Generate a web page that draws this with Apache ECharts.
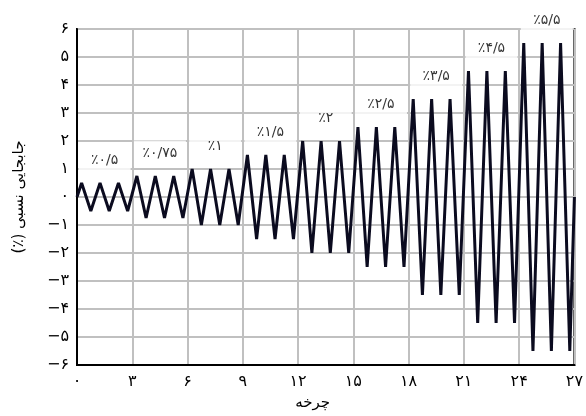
<!DOCTYPE html>
<html>
<head>
<meta charset="utf-8">
<script src="https://cdn.jsdelivr.net/npm/echarts@6/dist/echarts.min.js"></script>
<style>html,body{margin:0;padding:0;background:#fff}#c{width:586px;height:416px}</style>
</head>
<body>
<div id="c"></div>
<script>
// Drift levels (label text) and their amplitudes (%), three cycles each
const levelLabels = ['٪۰/۵', '٪۰/۷۵', '٪۱', '٪۱/۵', '٪۲', '٪۲/۵', '٪۳/۵', '٪۴/۵', '٪۵/۵'];
const levelAmplitudes = [0.5, 0.75, 1, 1.5, 2, 2.5, 3.5, 4.5, 5.5];
const cyclesPerLevel = 3;
const xTicks = [0, 3, 6, 9, 12, 15, 18, 21, 24, 27];
const yTicks = [-6, -5, -4, -3, -2, -1, 0, 1, 2, 3, 4, 5, 6];
const xTitle = 'چرخه';
const yTitle = '\u200Fجابجایی نسبی (٪)\u200F';

const faDigits = '۰۱۲۳۴۵۶۷۸۹';
function toFa(v) {
  return String(v).replace(/\d/g, d => faDigits[+d]).replace('-', '−');
}

// Build the triangular loading history: peak at +A, valley at -A each cycle
const history = [[0, 0]];
levelAmplitudes.forEach((A, li) => {
  for (let c = 0; c < cyclesPerLevel; c++) {
    const k = li * cyclesPerLevel + c;
    history.push([k + 0.25, A]);
    history.push([k + 0.75, -A]);
  }
});
history.push([levelAmplitudes.length * cyclesPerLevel, 0]);

const labelPoints = levelLabels.map((t, i) => ({
  value: [i * cyclesPerLevel + cyclesPerLevel / 2, levelAmplitudes[i] + 0.8],
  name: t
}));

const font = "'DejaVu Sans', 'Noto Sans', sans-serif";
const chart = echarts.init(document.getElementById('c'), null, {renderer: 'canvas'});
chart.setOption({
  animation: false,
  backgroundColor: '#fff',
  grid: {left: 77, right: 6, top: 29, bottom: 49, show: true, borderColor: '#000', borderWidth: 2, backgroundColor: 'transparent'},
  xAxis: {
    type: 'value', min: xTicks[0], max: xTicks[xTicks.length - 1], interval: 3,
    name: xTitle, nameLocation: 'middle', nameGap: 31,
    nameTextStyle: {fontFamily: font, fontSize: 15, color: '#000', padding: [0, 26, 0, 0]},
    axisLine: {show: true, onZero: false, lineStyle: {color: '#000', width: 2}},
    axisTick: {show: false},
    axisLabel: {formatter: v => toFa(v), fontFamily: font, fontSize: 16, color: '#000', margin: 9},
    splitLine: {show: true, lineStyle: {color: '#c0c0c0', width: 2}}
  },
  yAxis: {
    type: 'value', min: yTicks[0], max: yTicks[yTicks.length - 1], interval: 1,
    name: yTitle, nameLocation: 'middle', nameRotate: 90, nameGap: 50,
    nameTextStyle: {fontFamily: font, fontSize: 15, color: '#000'},
    axisLine: {show: true, onZero: false, lineStyle: {color: '#000', width: 2}},
    axisTick: {show: false},
    axisLabel: {formatter: v => toFa(v), fontFamily: font, fontSize: 16, color: '#000', margin: 8},
    splitLine: {show: true, lineStyle: {color: '#c0c0c0', width: 2}}
  },
  series: [
    {
      type: 'line', data: history, showSymbol: false, symbol: 'none',
      lineStyle: {color: '#0b0b1f', width: 3}, z: 3
    },
    {
      type: 'scatter', data: labelPoints, symbolSize: 0, clip: false, z: 4,
      label: {
        show: true, position: 'inside', formatter: p => p.name,
        fontFamily: font, fontSize: 14, color: '#000',
        backgroundColor: '#fff', width: 46, height: 18, align: 'center',
        verticalAlign: 'middle', lineHeight: 18, padding: [4, 3]
      }
    }
  ]
});
</script>
</body>
</html>
